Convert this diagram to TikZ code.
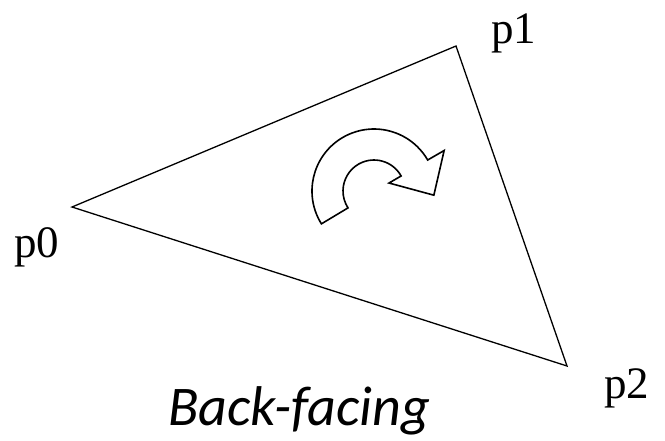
\documentclass[tikz,border=0pt]{standalone}
\usepackage{fontspec}
\setmainfont{Liberation Serif}
\newfontfamily\captionfont{Carlito}
\usetikzlibrary{positioning}

\begin{document}
\begin{tikzpicture}[
    x=1pt, y=-1pt, % pixel units, y downwards
    vlabel/.style={anchor=base west, inner sep=0pt, font=\fontsize{45}{54}\selectfont}, % vertex names
    edge/.style={line width=1.3pt, line join=miter} % triangle sides
]
    \useasboundingbox (0,0) rectangle (665,440);

    % Vertices
    \coordinate (p0) at (72, 207);
    \coordinate (p1) at (456, 46);
    \coordinate (p2) at (567, 366);

    % Triangle
    \draw[edge] (p0) -- (p1) -- (p2) -- cycle;

    % Vertex labels
    \node[vlabel] (l0) at (14, 257) {p0};
    \node[vlabel] (l1) at (491, 43) {p1};
    \node[vlabel] (l2) at (604, 398) {p2};

    % Curved arrow (winding order)
    \begin{scope}[shift={(374,191)}, y=1pt]
        \draw[line width=1.6pt, line join=miter]
            (212:62) arc[start angle=212, end angle=30, radius=62]
            -- (30:81) -- (-4:60) -- (28:17) -- (29:31)
            arc[start angle=29, end angle=213, radius=31] -- cycle;
    \end{scope}

    % Caption
    \node[anchor=base west, inner sep=0pt, font=\captionfont\itshape\fontsize{56}{64}\selectfont]
        (cap) at (168, 425) {Back-facing};

\end{tikzpicture}
\end{document}
